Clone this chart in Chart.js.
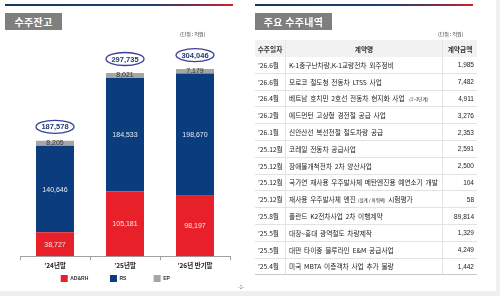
<!DOCTYPE html>
<html><head><meta charset="utf-8">
<script src="https://cdn.jsdelivr.net/npm/chart.js@4.4.1/dist/chart.umd.min.js"></script>
<style>
html,body{margin:0;padding:0;background:#fff;}
body{width:500px;height:296px;position:relative;overflow:hidden;font-family:"Noto Sans CJK KR","Noto Sans",sans-serif;}
#c{position:absolute;left:0;top:0;}
.topline{position:absolute;top:4px;height:2px;background:linear-gradient(to right,#17375e 0%,#24406f 65%,#8a2c45 88%,#d3212e 100%);}
.title{position:absolute;top:13px;height:17px;background:#7f7f7f;color:#fff;font-weight:bold;font-size:10px;line-height:17px;text-align:center;letter-spacing:0.3px;}
.unit{position:absolute;top:30px;font-size:5px;line-height:7px;color:#333;}
.band{position:absolute;left:0;top:291px;width:500px;height:5px;background:#eeeeee;}
.strip{position:absolute;left:496px;top:0;width:4px;height:296px;background:#f0f0f0;}
.page{position:absolute;left:238px;top:284px;font-size:5px;color:#888;font-family:"Liberation Sans",Arial,sans-serif;}
#t{position:absolute;left:255px;top:40px;width:222px;font-size:6.7px;color:#222;}
.row{display:flex;box-sizing:border-box;height:16.8px;border-bottom:1px solid #e2e2e2;align-items:center;}
.row.h{height:17px;background:#f2f2f2;font-weight:bold;color:#333;border-bottom:none;}
.row.last{border-bottom:1.5px solid #c8c8c8;}
.c1,.c2,.c3{box-sizing:border-box;height:100%;display:flex;align-items:center;white-space:nowrap;overflow:hidden;}
.c1{width:31px;padding-left:3px;border-right:1px solid #e4e4e4;}
.c2{width:157px;padding-left:3px;border-right:1px solid #e4e4e4;word-spacing:1.2px;}
.c3{width:34px;justify-content:flex-end;padding-right:3px;font-family:"Liberation Sans",Arial,sans-serif;font-size:6.5px;}
.h .c1,.h .c2,.h .c3{justify-content:center;padding:0;font-family:"Noto Sans CJK KR",sans-serif;font-size:6.7px;word-spacing:0;}
.sm{font-size:4.5px;margin-left:2px;word-spacing:0;}
</style>
</head><body>
<canvas id="c" width="250" height="296"></canvas>
<div class="topline" style="left:5px;width:228px;"></div>
<div class="topline" style="left:255px;width:218px;"></div>
<div class="title" style="left:5px;width:57px;">수주잔고</div>
<div class="title" style="left:255px;width:77px;">주요 수주내역</div>
<div class="unit" style="left:180px;">(단위 : 억원)</div>
<div class="unit" style="left:438px;">(단위 : 억원)</div>
<div id="t"><div class="row h"><div class="c1">수주일자</div><div class="c2">계약명</div><div class="c3">계약금액</div></div></div>
<div class="page">-2-</div>
<div class="band"></div>
<div class="strip"></div>
<script>
// ---- chart data ----
const categories = ["’24년말", "’25년말", "’26년 반기말"];
const seriesNames = ["AD&RH", "RS", "EP"];
const adrh = [38727, 105181, 98197];
const rs = [140646, 184533, 198670];
const ep = [8205, 8021, 7179];

// ---- table data ----
const orderDates = ["’26.6월","’26.6월","’26.4월","’26.2월","’26.1월","’25.12월","’25.12월","’25.12월","’25.12월","’25.8월","’25.5월","’25.5월","’25.4월"];
const contractNames = [
  "K-1중구난차량,K-1교량전차 외주정비",
  "모로코 철도청 전동차 LTSS 사업",
  "베트남 호치민 2호선 전동차 현지화 사업 [(1~3단계)]",
  "에드먼턴 고상형 경전철 공급 사업",
  "신안산선 복선전철 철도차량 공급",
  "코레일 전동차 공급사업",
  "장애물개척전차 2차 양산사업",
  "국가연 재사용 우주발사체 메탄엔진용 예연소기 개발",
  "재사용 우주발사체 엔진[(설계 / 파워팩)] 시험평가",
  "폴란드 K2전차사업 2차 이행계약",
  "대장~홍대 광역철도 차량제작",
  "대만 타이중 블루라인 E&M 공급사업",
  "미국 MBTA 이층객차 사업 추가 물량"
];
const contractAmounts = ["1,985","7,482","4,911","3,276","2,353","2,591","2,500","104","58","89,814","1,329","4,249","1,442"];

const tbl = document.getElementById('t');
orderDates.forEach((d, i) => {
  const r = document.createElement('div');
  r.className = 'row' + (i === orderDates.length - 1 ? ' last' : '');
  const nm = contractNames[i].replace(/&/g,'&amp;').replace(/\[(.*?)\]/g, '<span class="sm">$1</span>');
  r.innerHTML = '<div class="c1">' + d + '</div><div class="c2"><span>' + nm + '</span></div><div class="c3">' + contractAmounts[i] + '</div>';
  tbl.appendChild(r);
});

const FONT = '"Liberation Sans", Arial, sans-serif';
const legendGaps = [12, 16, 14];

const labelPlugin = {
  id: 'barLabels',
  afterDatasetsDraw(chart) {
    const ctx = chart.ctx;
    ctx.save();
    ctx.textAlign = 'center';
    ctx.textBaseline = 'middle';
    chart.data.datasets.forEach((ds, di) => {
      const meta = chart.getDatasetMeta(di);
      meta.data.forEach((bar, i) => {
        const v = ds.data[i];
        const cy = (bar.y + bar.base) / 2;
        ctx.font = '7px ' + FONT;
        ctx.fillStyle = di === 2 ? '#333333' : (di === 0 ? '#fbe3e3' : '#e4ebf5');
        ctx.fillText(v.toLocaleString('en-US'), bar.x, di === 2 ? cy - 0.5 : cy + 0.5);
      });
    });
    const last = chart.getDatasetMeta(chart.data.datasets.length - 1);
    last.data.forEach((bar, i) => {
      const total = chart.data.datasets.reduce((s, d) => s + d.data[i], 0);
      const cx = bar.x, cy = bar.y - 14;
      ctx.beginPath();
      ctx.ellipse(cx, cy, 19, 6.5, 0, 0, Math.PI * 2);
      ctx.fillStyle = '#ffffff';
      ctx.fill();
      ctx.strokeStyle = '#3d3f9e';
      ctx.lineWidth = 1.3;
      ctx.stroke();
      ctx.font = 'bold 7.5px ' + FONT;
      ctx.fillStyle = '#1f3b70';
      ctx.fillText(total.toLocaleString('en-US'), cx, cy + 0.5);
    });
    ctx.restore();
  }
};

new Chart(document.getElementById('c'), {
  type: 'bar',
  data: {
    labels: categories,
    datasets: [
      { label: seriesNames[0], data: adrh, backgroundColor: '#e8202a', borderWidth: 0 },
      { label: seriesNames[1], data: rs, backgroundColor: '#0b3d7e', borderWidth: 0 },
      { label: seriesNames[2], data: ep, backgroundColor: '#a6a6a6', borderWidth: 0 }
    ]
  },
  options: {
    responsive: false,
    devicePixelRatio: 1,
    animation: false,
    datasets: { bar: { barPercentage: 0.543, categoryPercentage: 1 } },
    layout: { padding: { top: 47, left: 20, right: 20, bottom: 4 } },
    scales: {
      x: {
        stacked: true,
        offset: true,
        grid: { offset: true, drawOnChartArea: false, drawTicks: true, tickLength: 4, color: '#a0a0a0' },
        border: { display: true, color: '#a0a0a0', width: 1 },
        ticks: { padding: 1, color: '#222', font: { size: 6.5, weight: 'bold', family: '"Noto Sans CJK KR", sans-serif' } }
      },
      y: { stacked: true, display: false, min: 0, max: 340000 }
    },
    plugins: {
      tooltip: { enabled: false },
      legend: {
        position: 'bottom',
        labels: {
          boxWidth: 7, boxHeight: 7, padding: 5, color: '#333',
          font: { size: 5, weight: 'bold', family: FONT },
          generateLabels(chart) {
            const items = Chart.defaults.plugins.legend.labels.generateLabels(chart);
            items.forEach((it, i) => { it.text = it.text + ' '.repeat(legendGaps[i]); it.lineWidth = 0; });
            return items;
          }
        }
      }
    }
  },
  plugins: [labelPlugin]
});
</script>
</body></html>
